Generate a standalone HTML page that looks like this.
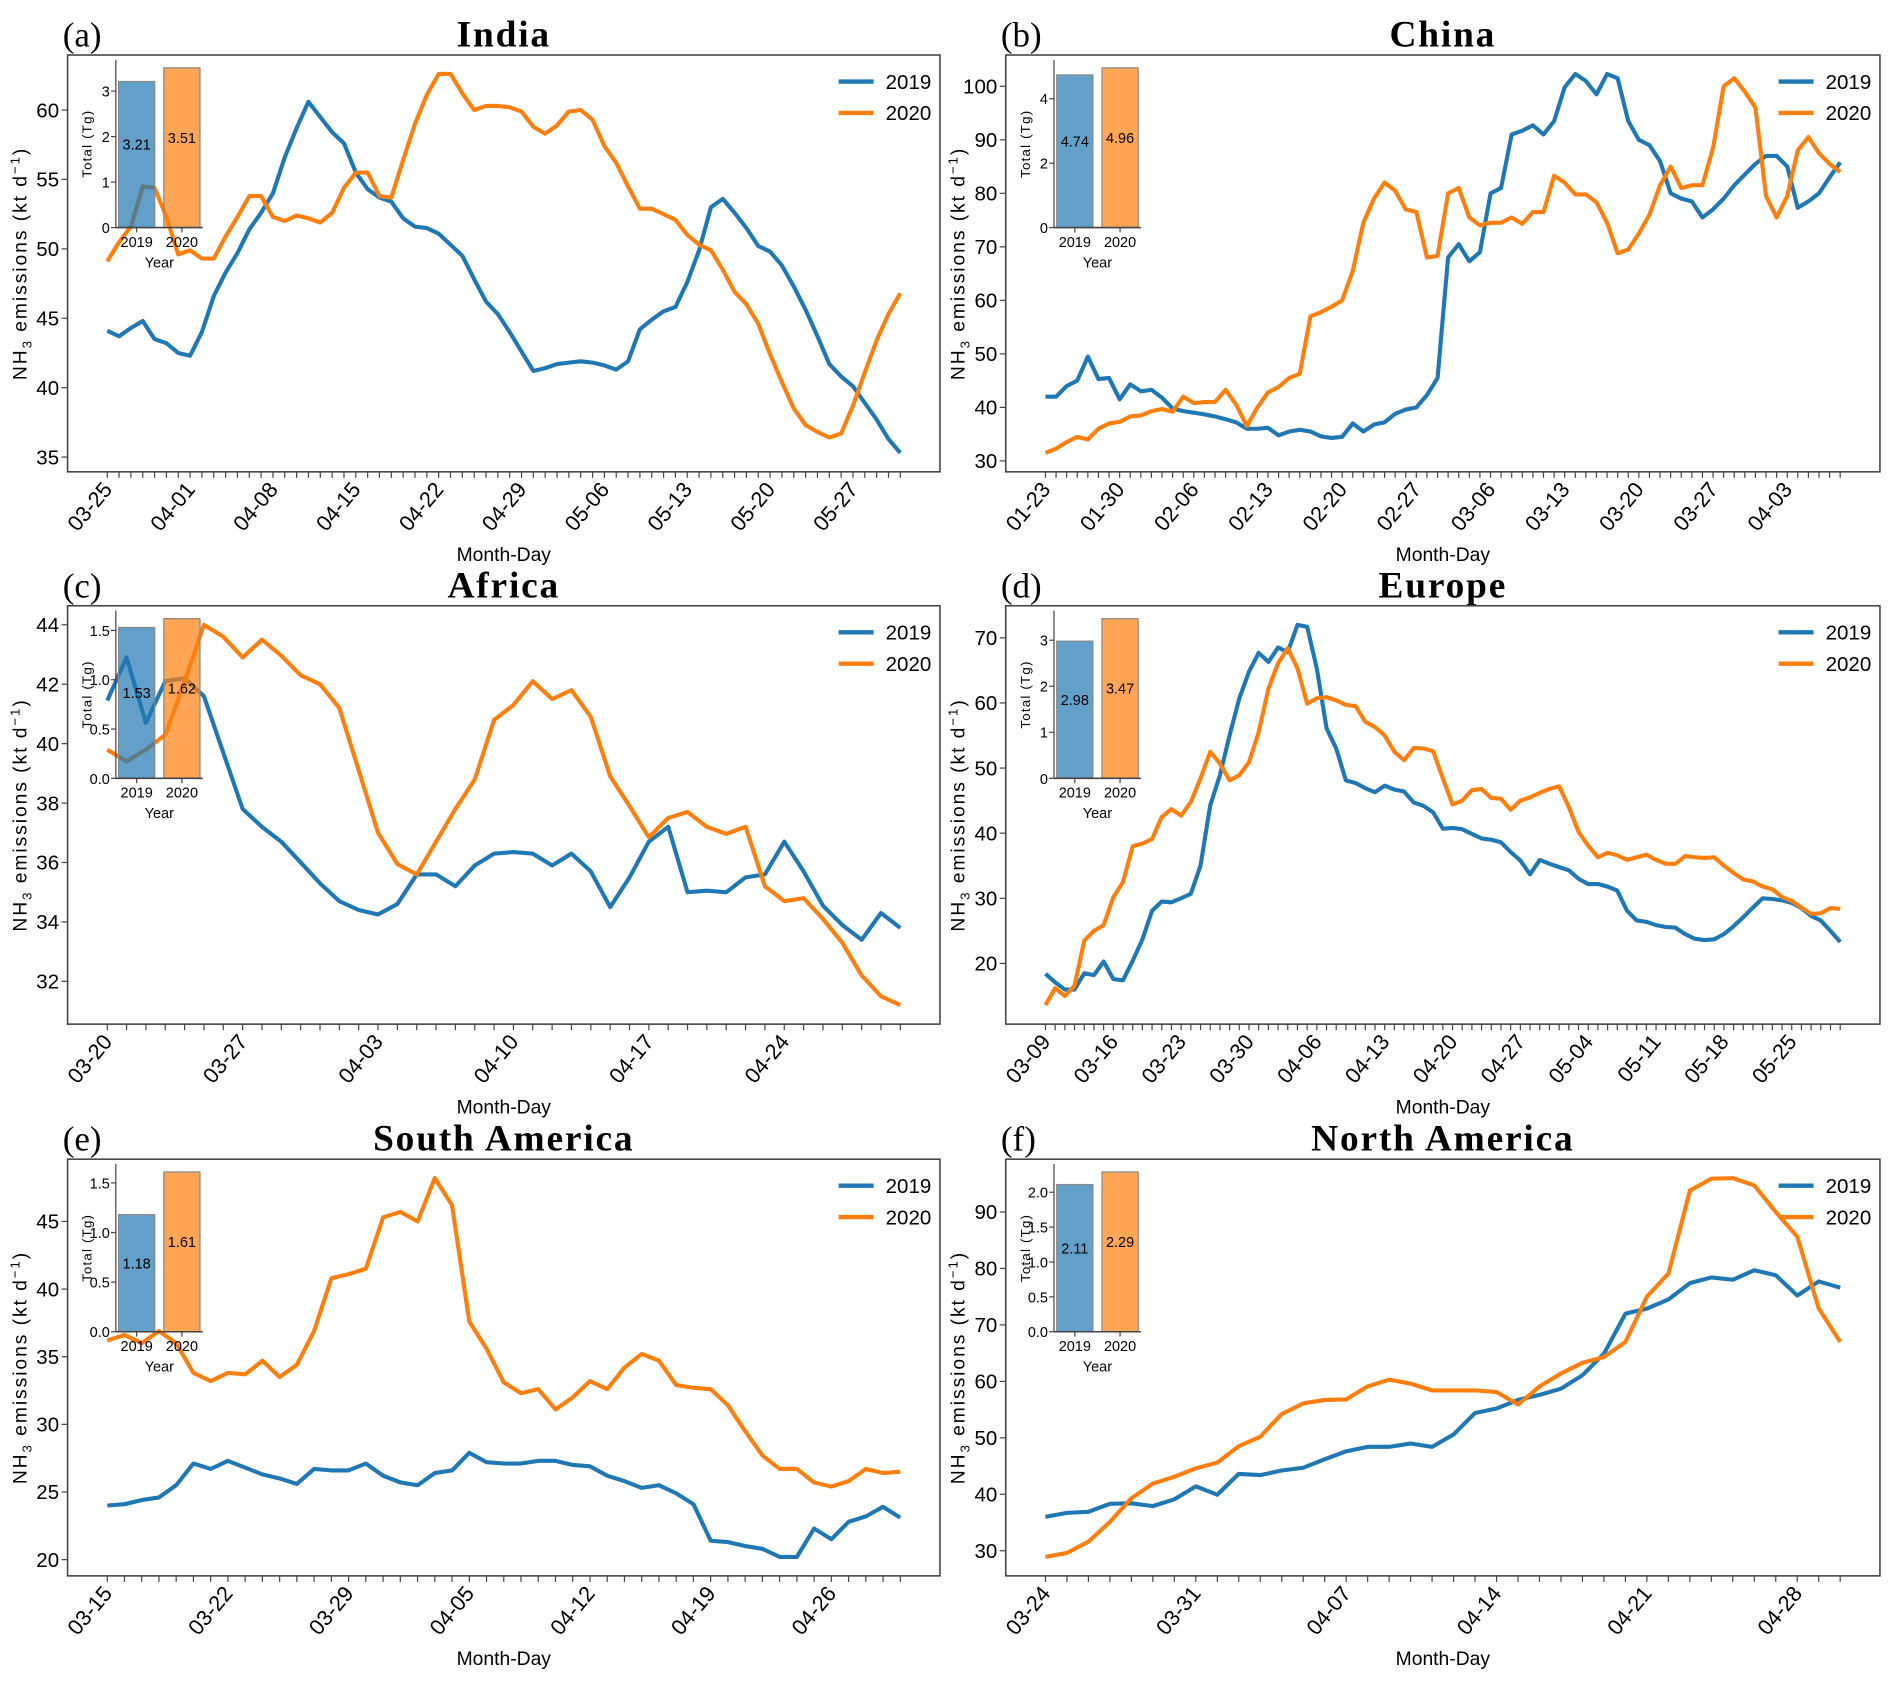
<!DOCTYPE html>
<html><head><meta charset="utf-8"><title>NH3 emissions 2019 vs 2020</title>
<style>
html,body{margin:0;padding:0;background:#fff;}
svg{display:block;}
text{font-family:"Liberation Sans","DejaVu Sans",sans-serif;fill:#000;}
.serif{font-family:"Liberation Serif","DejaVu Serif",serif;}
</style></head>
<body>
<svg id="fig" xmlns="http://www.w3.org/2000/svg" width="1892" height="1687" viewBox="0 0 1568 1398" preserveAspectRatio="none"></svg>
<script>
// ---------- DATA ----------
const indiaLabels = ["03-25","04-01","04-08","04-15","04-22","04-29","05-06","05-13","05-20","05-27"];
const india2019 = [44.1,43.7,44.3,44.8,43.5,43.2,42.5,42.3,44,46.6,48.3,49.7,51.4,52.6,54,56.6,58.7,60.6,59.5,58.4,57.6,55.5,54.3,53.7,53.4,52.2,51.6,51.5,51.1,50.3,49.5,47.8,46.2,45.3,44,42.6,41.2,41.4,41.7,41.8,41.9,41.8,41.6,41.3,41.9,44.2,44.9,45.5,45.8,47.6,49.9,53,53.6,52.6,51.5,50.2,49.8,48.8,47.3,45.6,43.7,41.7,40.8,40.1,38.9,37.7,36.3,35.3];
const india2020 = [49.1,50.5,51.6,54.5,54.4,52.3,49.6,49.9,49.3,49.3,50.9,52.3,53.8,53.8,52.3,52,52.4,52.2,51.9,52.6,54.4,55.5,55.5,53.8,53.7,56.4,59,61.1,62.6,62.6,61.2,60,60.3,60.3,60.2,59.9,58.8,58.3,58.9,59.9,60,59.3,57.4,56.2,54.5,52.9,52.9,52.5,52.1,51,50.3,49.9,48.5,46.9,46,44.6,42.4,40.4,38.5,37.3,36.8,36.4,36.7,38.7,41.1,43.4,45.3,46.8];
const indiaTotals = [3.21,3.51];

const chinaLabels = ["01-23","01-30","02-06","02-13","02-20","02-27","03-06","03-13","03-20","03-27","04-03"];
const china2019 = [42,42,44,45,49.5,45.3,45.5,41.5,44.3,43,43.3,41.8,39.8,39.3,39,38.7,38.3,37.8,37.2,36,36,36.2,34.8,35.5,35.8,35.5,34.6,34.3,34.5,37,35.5,36.8,37.2,38.8,39.6,40,42.3,45.5,68,70.5,67.3,69,80,81,91,91.7,92.7,91,93.5,99.8,102.3,101,98.5,102.3,101.5,93.5,90,89,86,80,79,78.5,75.5,77,79,81.5,83.5,85.5,87,87,85,77.3,78.5,80,83,85.8];
const china2020 = [31.5,32.3,33.5,34.5,34,36,37,37.3,38.3,38.5,39.3,39.7,39.2,42,40.8,41,41,43.3,40.5,36.5,40,42.8,43.8,45.5,46.3,57,57.8,58.8,60,65.5,74.5,79,82,80.5,77,76.5,68,68.3,80,81,75.5,74,74.5,74.5,75.5,74.3,76.5,76.5,83.3,82,79.8,79.8,78.3,74.5,68.8,69.5,72.5,76,81.5,85,81,81.5,81.5,88.5,100,101.5,99,96,79.5,75.5,79.5,88,90.5,87.5,85.5,84];
const chinaTotals = [4.74,4.96];

const africaLabels = ["03-20","03-27","04-03","04-10","04-17","04-24"];
const africa2019 = [41.45,42.9,40.7,42.1,42.2,41.6,39.7,37.8,37.2,36.7,36,35.3,34.7,34.4,34.25,34.6,35.6,35.6,35.2,35.9,36.3,36.35,36.3,35.9,36.3,35.7,34.5,35.5,36.7,37.2,35,35.05,35,35.5,35.6,36.7,35.7,34.55,33.9,33.4,34.3,33.8];
const africa2020 = [39.8,39.4,39.8,40.3,42.1,44,43.6,42.9,43.5,42.96,42.3,42,41.2,39.1,37,35.95,35.6,36.7,37.8,38.8,40.8,41.3,42.1,41.5,41.8,40.9,38.9,37.9,36.85,37.5,37.7,37.2,36.96,37.2,35.2,34.7,34.8,34.1,33.3,32.2,31.5,31.2];
const africaTotals = [1.53,1.62];

const europeLabels = ["03-09","03-16","03-23","03-30","04-06","04-13","04-20","04-27","05-04","05-11","05-18","05-25"];
const europe2019 = [18.4,17.1,16,16,18.5,18.2,20.3,17.6,17.4,20.4,23.7,28.1,29.5,29.4,30,30.7,35,44.3,48.9,55,60.7,64.8,67.7,66.3,68.5,67.8,72,71.7,65.3,56.1,53,48.1,47.7,46.9,46.3,47.3,46.7,46.4,44.7,44.2,43.2,40.7,40.8,40.6,39.9,39.2,39,38.6,37.1,35.8,33.7,35.9,35.3,34.8,34.3,33,32.2,32.2,31.8,31.2,28.1,26.6,26.4,25.9,25.6,25.5,24.5,23.8,23.6,23.7,24.5,25.7,27.1,28.6,30,29.9,29.7,29.3,28.5,27.3,26.6,25,23.3];
const europe2020 = [13.6,16.2,15,16.6,23.5,25,25.9,30.2,32.5,38,38.4,39.1,42.5,43.7,42.7,44.8,48.4,52.5,50.7,48.1,48.9,50.9,55.5,62.2,66.1,68.4,65.3,59.9,60.7,60.9,60.4,59.7,59.5,57.1,56.3,55,52.5,51.2,53.1,53,52.6,48.4,44.4,45,46.6,46.8,45.4,45.3,43.6,45,45.5,46.2,46.8,47.2,44,40.2,38.1,36.3,37,36.6,35.9,36.3,36.7,35.9,35.3,35.3,36.5,36.3,36.2,36.3,35,33.9,32.9,32.6,31.8,31.4,30.2,29.6,28.6,27.6,27.7,28.5,28.4];
const europeTotals = [2.98,3.47];

const samericaLabels = ["03-15","03-22","03-29","04-05","04-12","04-19","04-26"];
const samerica2019 = [24,24.1,24.4,24.6,25.5,27.1,26.7,27.3,26.8,26.3,26,25.6,26.7,26.6,26.6,27.1,26.2,25.7,25.5,26.4,26.6,27.9,27.2,27.1,27.1,27.3,27.3,27,26.9,26.2,25.8,25.3,25.5,24.9,24.1,21.4,21.3,21,20.8,20.2,20.2,22.3,21.5,22.8,23.2,23.9,23.1];
const samerica2020 = [36.2,36.6,36,36.9,36,33.8,33.2,33.8,33.7,34.7,33.5,34.4,36.9,40.8,41.1,41.5,45.3,45.7,45,48.2,46.2,37.6,35.6,33.1,32.3,32.6,31.1,32,33.2,32.6,34.2,35.2,34.7,32.9,32.7,32.6,31.4,29.5,27.7,26.7,26.7,25.7,25.4,25.8,26.7,26.4,26.5];
const samericaTotals = [1.18,1.61];

const namericaLabels = ["03-24","03-31","04-07","04-14","04-21","04-28"];
const namerica2019 = [36,36.7,36.9,38.3,38.4,37.9,39.1,41.4,39.9,43.6,43.4,44.2,44.7,46.2,47.6,48.4,48.4,49,48.4,50.6,54.4,55.2,56.7,57.6,58.7,61.1,64.9,72,72.9,74.5,77.4,78.4,78,79.7,78.8,75.2,77.7,76.6];
const namerica2020 = [28.9,29.6,31.6,35.1,39.3,41.9,43.1,44.6,45.6,48.5,50.2,54.2,56.1,56.7,56.8,59.1,60.3,59.6,58.4,58.4,58.4,58.1,55.9,59.1,61.4,63.3,64.3,67,75,79.1,93.8,95.9,96,94.7,90,85.6,72.9,67];
const namericaTotals = [2.11,2.29];

const indiaYTicks = [35,40,45,50,55,60];
const chinaYTicks = [30,40,50,60,70,80,90,100];
const africaYTicks = [32,34,36,38,40,42,44];
const europeYTicks = [20,30,40,50,60,70];
const samericaYTicks = [20,25,30,35,40,45];
const namericaYTicks = [30,40,50,60,70,80,90];

const indiaInsetTicks = [0,1,2,3];
const chinaInsetTicks = [0,2,4];
const africaInsetTicks = [0,0.5,1.0,1.5];
const europeInsetTicks = [0,1,2,3];
const samericaInsetTicks = [0,0.5,1.0,1.5];
const namericaInsetTicks = [0,0.5,1.0,1.5,2.0];

const yearLabels = ["2019","2020"];

// ---------- LAYOUT ----------
const NS = "http://www.w3.org/2000/svg";
const svg = document.getElementById('fig');
const C19 = "#1f77b4", C20 = "#ff7f0e";

function mk(tag, attrs, parent, text){
  const e = document.createElementNS(NS, tag);
  for (const k in attrs) e.setAttribute(k, attrs[k]);
  if (text !== undefined) e.textContent = text;
  (parent||svg).appendChild(e);
  return e;
}

const panels = [
  {key:"india", tag:"(a)", title:"India", L:56, R:779, T:45.6, B:391, s19:india2019, s20:india2020, xl:indiaLabels, yt:indiaYTicks, tot:indiaTotals, it:indiaInsetTicks, dec:0},
  {key:"china", tag:"(b)", title:"China", L:833.5, R:1558, T:45.6, B:391, s19:china2019, s20:china2020, xl:chinaLabels, yt:chinaYTicks, tot:chinaTotals, it:chinaInsetTicks, dec:0},
  {key:"africa", tag:"(c)", title:"Africa", L:56, R:779, T:502, B:848.7, s19:africa2019, s20:africa2020, xl:africaLabels, yt:africaYTicks, tot:africaTotals, it:africaInsetTicks, dec:1},
  {key:"europe", tag:"(d)", title:"Europe", L:833.5, R:1558, T:502, B:848.7, s19:europe2019, s20:europe2020, xl:europeLabels, yt:europeYTicks, tot:europeTotals, it:europeInsetTicks, dec:0},
  {key:"south-america", tag:"(e)", title:"South America", L:56, R:779, T:960.6, B:1305.9, s19:samerica2019, s20:samerica2020, xl:samericaLabels, yt:samericaYTicks, tot:samericaTotals, it:samericaInsetTicks, dec:1},
  {key:"north-america", tag:"(f)", title:"North America", L:833.5, R:1558, T:960.6, B:1305.9, s19:namerica2019, s20:namerica2020, xl:namericaLabels, yt:namericaYTicks, tot:namericaTotals, it:namericaInsetTicks, dec:1}
];

panels.forEach(p => {
  const g = mk('g', {});
  
  
  const n = Math.max(p.s19.length, p.s20.length);
  const W = p.R - p.L, H = p.B - p.T;
  const x0 = p.L + W*0.05/1.1, x1 = p.R - W*0.05/1.1;
  const xs = i => x0 + (x1 - x0) * i / (n - 1);
  const all = p.s19.concat(p.s20);
  const mn = Math.min(...all), mx = Math.max(...all), pad = (mx - mn) * 0.05;
  const ylo = mn - pad, yhi = mx + pad;
  const ys = v => p.B - (v - ylo) / (yhi - ylo) * H;

  const tg = mk('text', {x:p.L-4, y:p.T-7, 'font-size':29, class:'serif'}, g, p.tag);
  
  
  const tt = mk('text', {x:(p.L+p.R)/2, y:p.T-7, 'font-size':31, 'font-weight':'bold', 'text-anchor':'middle', class:'serif', 'letter-spacing':'1.5'}, g, p.title);
  
  

  [[p.s19, C19, '2019'], [p.s20, C20, '2020']].forEach(([s, c, yr]) => {
    const d = s.map((v, i) => (i ? 'L' : 'M') + xs(i).toFixed(1) + ' ' + ys(v).toFixed(1)).join(' ');
    const pl = mk('path', {d:d, fill:'none', stroke:c, 'stroke-width':3.4, 'stroke-linejoin':'round'}, g);
    
    
  });

  const fr = mk('rect', {x:p.L, y:p.T, width:W, height:H, fill:'none', stroke:'#444', 'stroke-width':1.3}, g);
  
  

  p.yt.forEach(v => {
    const y = ys(v);
    mk('line', {x1:p.L-5, x2:p.L, y1:y, y2:y, stroke:'#444', 'stroke-width':1}, g);
    const t = mk('text', {x:p.L-7, y:y+6, 'font-size':17, 'text-anchor':'end'}, g, String(v));
    
    
  });
  for (let i = 0; i < n; i++) {
    mk('line', {x1:xs(i), x2:xs(i), y1:p.B, y2:p.B+5, stroke:'#444', 'stroke-width':1}, g);
  }
  p.xl.forEach((lab, k) => {
    const x = xs(k*7), y = p.B + 15;
    const t = mk('text', {x:x+5, y:y, 'font-size':18, 'text-anchor':'end', transform:`rotate(-50 ${x+5} ${y})`}, g, lab);
    
    
  });
  const xt = mk('text', {x:(p.L+p.R)/2, y:p.B+74, 'font-size':16, 'text-anchor':'middle'}, g, 'Month-Day');
  
  
  const yc = (p.T+p.B)/2, yx = p.L - 34;
  const ytl = mk('text', {x:yx, y:yc, 'font-size':16, 'text-anchor':'middle', transform:`rotate(-90 ${yx} ${yc})`, 'letter-spacing':'1.6'}, g);
  
  
  ytl.appendChild(document.createTextNode('NH'));
  mk('tspan', {'font-size':11, dy:4}, ytl, '3');
  mk('tspan', {dy:-4}, ytl, ' emissions (kt d');
  mk('tspan', {'font-size':11, dy:-6}, ytl, '−1');
  mk('tspan', {dy:6}, ytl, ')');

  const lg = mk('g', {}, g);
  
  
  [[C19, '2019', 22], [C20, '2020', 48]].forEach(([c, yr, dy]) => {
    const yy = p.T + dy;
    const ln = mk('line', {x1:p.R-84, x2:p.R-55, y1:yy, y2:yy, stroke:c, 'stroke-width':3.6}, lg);
    
    
    const lt = mk('text', {x:p.R-45, y:yy+6, 'font-size':17}, lg, yr);
    
    
  });

  const iL = p.L + 40, iR = p.L + 112, iT = p.T + 4, iB = p.T + 143;
  const ig = mk('g', {}, g);
  
  
  const imax = Math.max(...p.tot) * 1.05;
  const iy = v => iB - v / imax * (iB - iT);
  const ix = c => iL + (c + 0.46) / 1.92 * (iR - iL);
  const bw = 0.8 / 1.92 * (iR - iL);
  p.tot.forEach((v, i) => {
    const r = mk('rect', {x:ix(i)-bw/2, y:iy(v), width:bw, height:iB-iy(v), fill:i ? C20 : C19, 'fill-opacity':0.7, stroke:'#888', 'stroke-width':1}, ig);
    
    
    const bt = mk('text', {x:ix(i), y:(iy(v)+iB)/2 - 4, 'font-size':12, 'text-anchor':'middle'}, ig, v.toFixed(2));
    
    
    mk('line', {x1:ix(i), x2:ix(i), y1:iB, y2:iB+4, stroke:'#444'}, ig);
    const xl = mk('text', {x:ix(i), y:iB+16, 'font-size':12, 'text-anchor':'middle'}, ig, yearLabels[i]);
    
    
  });
  mk('line', {x1:iL, x2:iL, y1:iT, y2:iB, stroke:'#444', 'stroke-width':1}, ig);
  mk('line', {x1:iL, x2:iR, y1:iB, y2:iB, stroke:'#444', 'stroke-width':1.3}, ig);
  p.it.forEach(v => {
    mk('line', {x1:iL-4, x2:iL, y1:iy(v), y2:iy(v), stroke:'#444'}, ig);
    const t = mk('text', {x:iL-5, y:iy(v)+4.5, 'font-size':12, 'text-anchor':'end'}, ig, v.toFixed(p.dec));
    
    
  });
  const yrT = mk('text', {x:(iL+iR)/2, y:iB+33, 'font-size':12, 'text-anchor':'middle'}, ig, 'Year');
  
  
  const tx = iL - 20, ty = (iT+iB)/2;
  const tT = mk('text', {x:tx, y:ty, 'font-size':11, 'text-anchor':'middle', transform:`rotate(-90 ${tx} ${ty})`, 'letter-spacing':'1'}, ig, 'Total (Tg)');
  
  
});
</script>
</body></html>
